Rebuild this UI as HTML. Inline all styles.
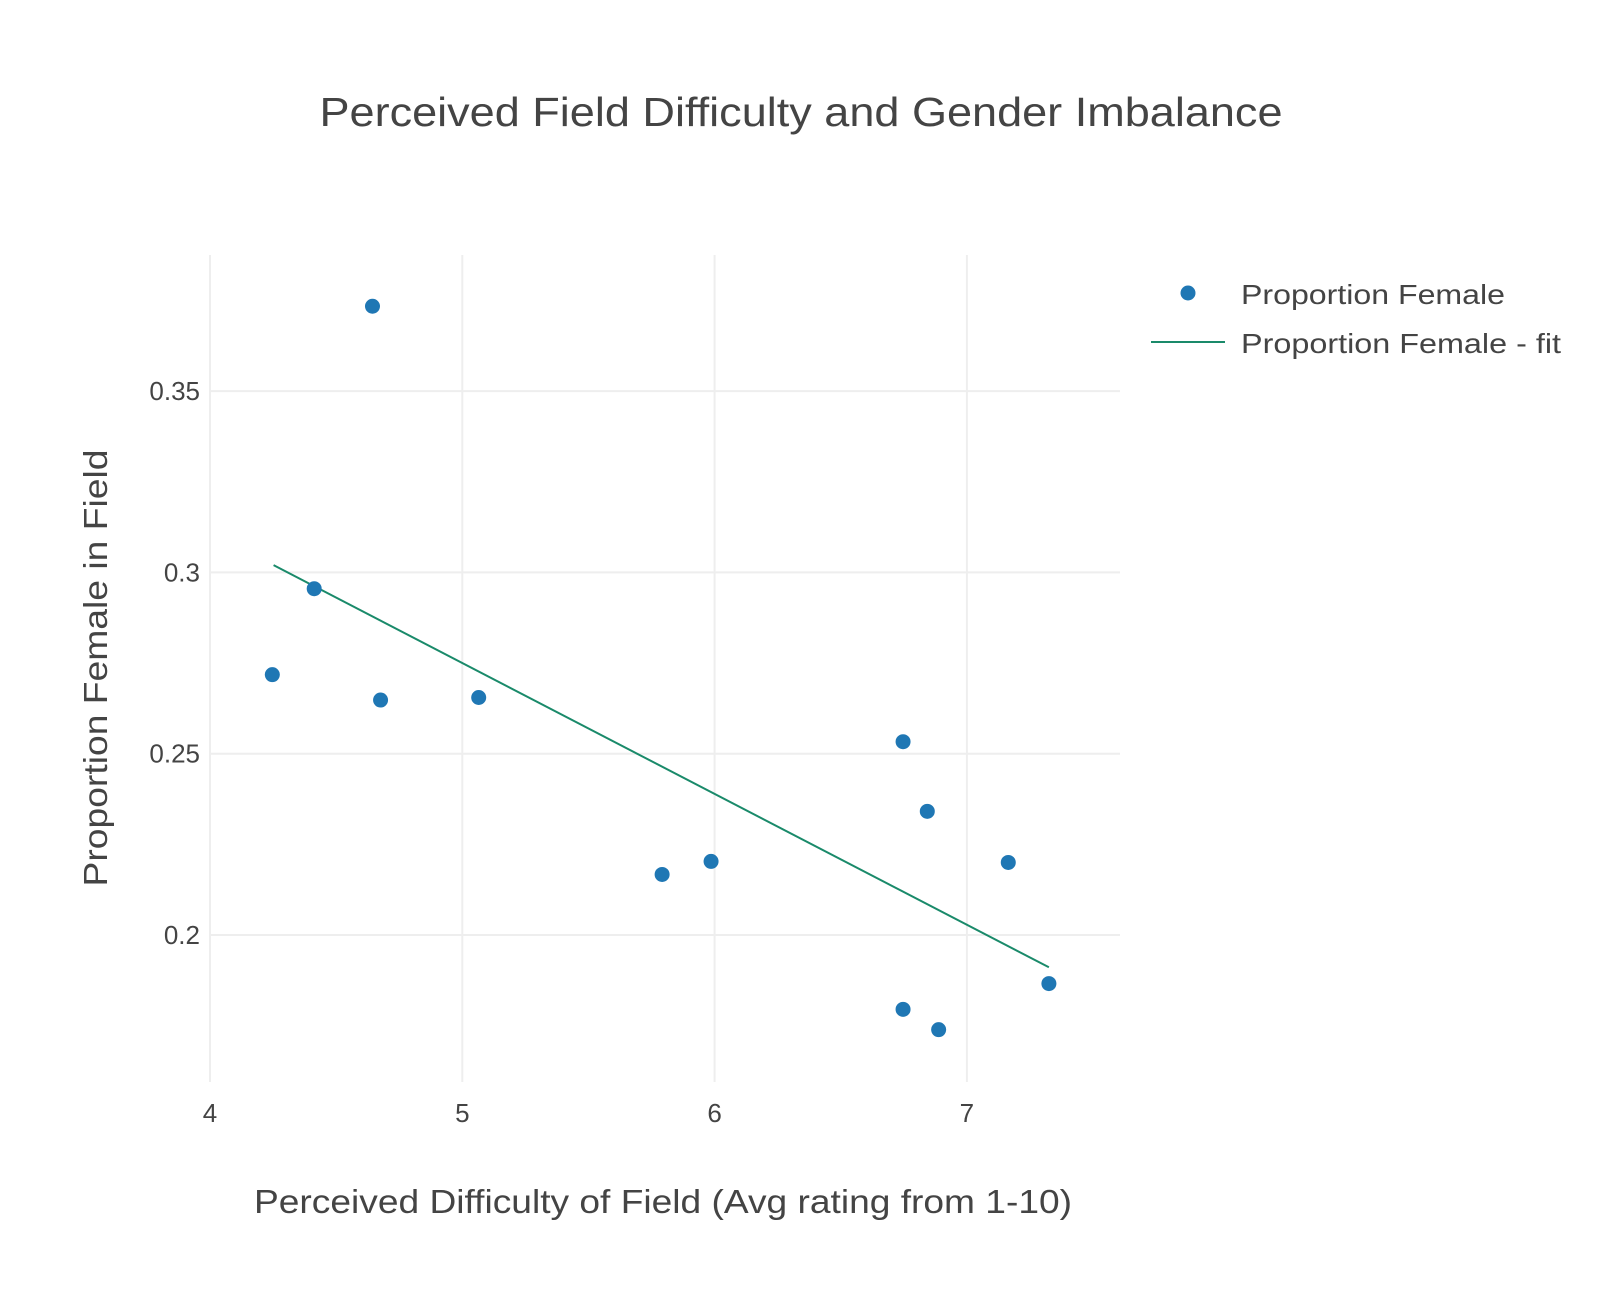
<!DOCTYPE html>
<html><head><meta charset="utf-8"><style>
body{margin:0;background:#fff;}
svg text{font-family:"Liberation Sans",sans-serif;fill:#444;}
</style></head><body>
<svg id="chart" width="1600" height="1285" xmlns="http://www.w3.org/2000/svg">
<text x="801" y="126" text-anchor="middle" font-size="41" textLength="963" lengthAdjust="spacingAndGlyphs">Perceived Field Difficulty and Gender Imbalance</text>
<g id="grid"></g>
<g id="fit"></g>
<g id="pts"></g>
<g id="ticks"></g>
<text x="663" y="1213" text-anchor="middle" font-size="33" textLength="818" lengthAdjust="spacingAndGlyphs">Perceived Difficulty of Field (Avg rating from 1-10)</text>
<text transform="translate(107,668) rotate(-90)" text-anchor="middle" font-size="33" textLength="437" lengthAdjust="spacingAndGlyphs">Proportion Female in Field</text>
<g>
<circle cx="1188" cy="293" r="7.5" fill="#1f77b4"/>
<text x="1241" y="304" font-size="28" textLength="264" lengthAdjust="spacingAndGlyphs">Proportion Female</text>
<line x1="1151" y1="342" x2="1225" y2="342" stroke="#1a8a6a" stroke-width="2"/>
<text x="1241" y="353" font-size="28" textLength="320" lengthAdjust="spacingAndGlyphs">Proportion Female - fit</text>
</g>
</svg>
<script>
const difficulty=[4.247,4.413,4.644,4.676,5.065,5.792,5.986,6.747,6.843,7.164,7.325,6.747,6.888];
const proportion=[0.2718,0.2955,0.3734,0.2648,0.2655,0.2167,0.2203,0.2533,0.2341,0.2200,0.1866,0.1795,0.1739];
const fitX=[4.252,7.325];
const fitY=[0.3020,0.1911];
const xTicks=[4,5,6,7];
const yTicks=[0.2,0.25,0.3,0.35];
const yTickLabels=["0.2","0.25","0.3","0.35"];
const L=210,R=1120,T=255,B=1082;
const sx=v=>210+(v-4)*252.3;
const sy=v=>935-(v-0.2)*3626;
const NS="http://www.w3.org/2000/svg";
function mk(tag,parent,attrs){const e=document.createElementNS(NS,tag);for(const k in attrs)e.setAttribute(k,attrs[k]);document.getElementById(parent).appendChild(e);return e;}
xTicks.forEach(t=>{
 const g=mk('line','grid',{x1:sx(t),x2:sx(t),y1:T,y2:B,stroke:'#eee','stroke-width':2});
 
 
 const tx=mk('text','ticks',{x:sx(t),y:1122,'text-anchor':'middle','font-size':26});
 tx.textContent=t;
 
 
});
yTicks.forEach((t,i)=>{
 const g=mk('line','grid',{x1:L,x2:R,y1:sy(t),y2:sy(t),stroke:'#eee','stroke-width':2});
 
 
 const tx=mk('text','ticks',{x:200,y:sy(t)+9,'text-anchor':'end','font-size':26});
 tx.textContent=yTickLabels[i];
 
 
});
const fl=mk('line','fit',{x1:sx(fitX[0]),y1:sy(fitY[0]),x2:sx(fitX[1]),y2:sy(fitY[1]),stroke:'#1a8a6a','stroke-width':2});


difficulty.forEach((d,i)=>{
 const c=mk('circle','pts',{cx:sx(d),cy:sy(proportion[i]),r:7.5,fill:'#1f77b4'});
 
 
});
</script>
</body></html>
